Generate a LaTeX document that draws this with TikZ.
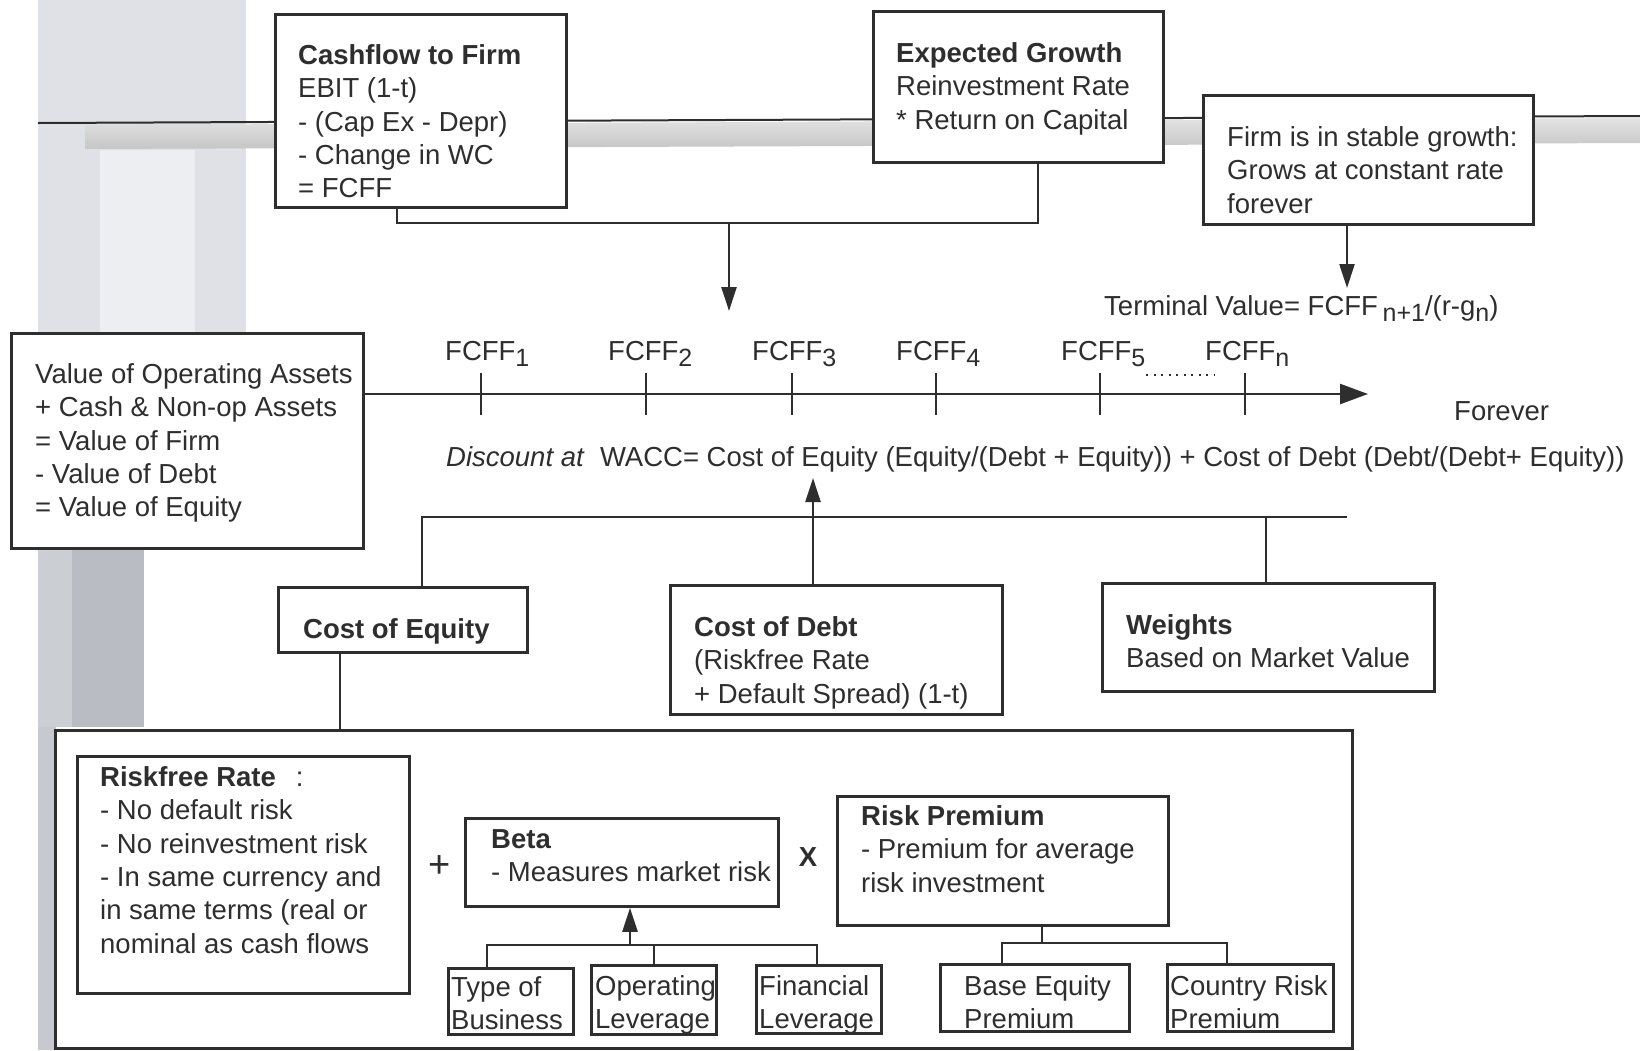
\documentclass[tikz,border=0pt]{standalone}
\usepackage{fontspec}
\setmainfont{Liberation Sans}
\usetikzlibrary{arrows.meta,calc}
\definecolor{ink}{HTML}{2E2E2E}
\definecolor{pilA}{HTML}{DFE1E6}
\definecolor{pilB}{HTML}{EDEEF1}
\definecolor{pilC}{HTML}{CBCED3}
\definecolor{pilD}{HTML}{B9BCC2}
\definecolor{pilS}{HTML}{C6C9CE}
\newcommand\dgfs{\fontsize{27.5pt}{33.3pt}\selectfont}
\newcommand\dsub[1]{\raisebox{-0.24em}{\fontsize{25pt}{25pt}\selectfont #1}}
\begin{document}
\begin{tikzpicture}[x=1pt,y=-1pt,
  box/.style={draw=ink, line width=2.8pt, fill=white, inner sep=0pt, anchor=north west},
  txt/.style={inner sep=0pt, anchor=north west, align=left, text=ink, font=\dgfs},
  lbl/.style={inner sep=0pt, anchor=base west, text=ink, font=\dgfs},
  conn/.style={draw=ink, line width=2.4pt},
  arr/.style={conn, -{Triangle[length=24pt,width=15pt]}},
  bigarr/.style={conn, -{Triangle[length=28pt,width=20pt]}},
]
\useasboundingbox (0,0) rectangle (1640,1050);
\fill[white] (0,0) rectangle (1640,1050);
% background pillar
\fill[pilA] (38,0) rectangle (246,547);
\fill[pilB] (100,150) rectangle (195,332);
\fill[pilC] (38,547) rectangle (144,727);
\fill[pilD] (72,547) rectangle (144,727);
\fill[pilS] (38,727) rectangle (56,1050);
% pipe
\shade[top color=gray!22, middle color=gray!14, bottom color=gray!45]
  (85,125) -- (1640,118) -- (1640,143) -- (85,149) -- cycle;
\draw[ink, line width=2pt] (38,123) -- (1640,116);

% boxes
\node[box, minimum width=291pt, minimum height=193pt] (cf) at (274,13) {};
\node[box, minimum width=290pt, minimum height=151pt] (eg) at (872,10) {};
\node[box, minimum width=330pt, minimum height=129pt] (sg) at (1202,94) {};
\node[box, minimum width=352pt, minimum height=215pt] (vo) at (10,332) {};
\node[box, minimum width=249pt, minimum height=65pt] (ce) at (277,586) {};
\node[box, minimum width=332pt, minimum height=129pt] (cd) at (669,584) {};
\node[box, minimum width=332pt, minimum height=108pt] (wt) at (1101,582) {};
\node[box, minimum width=1297pt, minimum height=318pt] (big) at (54,729) {};
\node[box, minimum width=332pt, minimum height=237pt] (rf) at (76,755) {};
\node[box, minimum width=313pt, minimum height=88pt] (beta) at (464,817) {};
\node[box, minimum width=331pt, minimum height=129pt] (rp) at (836,795) {};
\node[box, minimum width=125pt, minimum height=66pt] (tb) at (447,967) {};
\node[box, minimum width=125pt, minimum height=69pt] (ol) at (590,964) {};
\node[box, minimum width=125pt, minimum height=68pt] (fl) at (755,964) {};
\node[box, minimum width=189pt, minimum height=67pt] (be) at (939,963) {};
\node[box, minimum width=166pt, minimum height=67pt] (cr) at (1166,963) {};

% connectors
\coordinate (cfx) at (397,223);
\coordinate (egx) at (1038,223);
\draw[conn] (cf.south -| cfx) -- (cfx) -- (egx) -- (eg.south -| egx);
\coordinate (m1) at (729,223);
\coordinate (m1tip) at (729,311);
\draw[arr] (m1) -- (m1tip);
\coordinate (tvtip) at (1347,288);
\draw[arr] (sg.south -| tvtip) -- (tvtip);
\coordinate (tlend) at (1368,394);
\draw[bigarr] (vo.east |- tlend) -- (tlend);
\foreach \tx in {481,646,792,936,1100,1245}
  \draw[conn] (\tx,373) -- (\tx,415);
\draw[ink, line width=2pt, dash pattern=on 2pt off 5.5pt] (1146,375) -- (1214,375);
\coordinate (wtip) at (813,478);
\draw[arr] (cd.north -| wtip) -- (wtip);
\coordinate (h1) at (422,517);
\coordinate (h2) at (1347,517);
\coordinate (h3) at (1266,517);
\draw[conn] (ce.north -| h1) -- (h1) -- (h2);
\draw[conn] (h3) -- (wt.north -| h3);
\coordinate (c1) at (340,700);
\draw[conn] (ce.south -| c1) -- (big.north -| c1);
\coordinate (bt1) at (487,945);
\coordinate (bt2) at (817,945);
\coordinate (bt3) at (630,945);
\draw[conn] (tb.north -| bt1) -- (bt1) -- (bt2) -- (fl.north -| bt2);
\draw[conn] (ol.north) -- (ol.north |- bt1);
\draw[arr] (bt3) -- (beta.south -| bt3);
\coordinate (rt) at (1042,943);
\coordinate (rt1) at (1002,943);
\coordinate (rt2) at (1227,943);
\draw[conn] (rp.south -| rt) -- (rt);
\draw[conn] (be.north -| rt1) -- (rt1) -- (rt2) -- (cr.north -| rt2);

% texts
\node[txt] (cft) at (298,41) {\strut\textbf{Cashflow to Firm}\\EBIT (1-t)\\- (Cap Ex - Depr)\\- Change in WC\\= FCFF};
\node[txt] (egt) at (896,39) {\strut\textbf{Expected Growth}\\Reinvestment Rate\\* Return on Capital};
\node[txt] (sgt) at (1227,123) {\strut Firm is in stable growth:\\Grows at constant rate\\forever};
\node[lbl] (tv) at (1104,315) {Terminal Value= FCFF\,\dsub{n+1}/(r-g\dsub{n})};
\node[txt] (vot) at (35,360) {\strut Value of Operating Assets\\+ Cash \& Non-op Assets\\= Value of Firm\\- Value of Debt\\= Value of Equity};
\node[lbl] (f1) at (445,360) {FCFF\dsub{1}};
\node[lbl] (f2) at (608,360) {FCFF\dsub{2}};
\node[lbl] (f3) at (752,360) {FCFF\dsub{3}};
\node[lbl] (f4) at (896,360) {FCFF\dsub{4}};
\node[lbl] (f5) at (1061,360) {FCFF\dsub{5}};
\node[lbl] (fn) at (1205,360) {FCFF\dsub{n}};
\node[lbl] (fev) at (1454,420) {Forever};
\node[lbl] (wacc) at (446,466) {\textit{Discount at}\ \ WACC= Cost of Equity (Equity/(Debt + Equity)) + Cost of Debt (Debt/(Debt+ Equity))};
\node[txt] (cet) at (303,615) {\strut\textbf{Cost of Equity}};
\node[txt] (cdt) at (694,613) {\strut\textbf{Cost of Debt}\\(Riskfree Rate\\+ Default Spread) (1-t)};
\node[txt] (wtt) at (1126,611) {\strut\textbf{Weights}\\Based on Market Value};
\node[txt] (rft) at (100,763) {\strut\textbf{Riskfree Rate}\hspace{20pt}:\\- No default risk\\- No reinvestment risk\\- In same currency and\\in same terms (real or\\nominal as cash flows};
\node[txt, anchor=center, font=\fontsize{38pt}{38pt}\selectfont] (plus) at (440,867) {+};
\node[txt] (btt) at (491,825) {\strut\textbf{Beta}\\- Measures market risk};
\node[txt, anchor=center] (times) at (808,857) {\textbf{X}};
\node[txt] (rpt) at (861,802) {\strut\textbf{Risk Premium}\\- Premium for average\\risk investment};
\node[txt] (tbt) at (451,973) {\strut Type of\\Business};
\node[txt] (olt) at (595,972) {\strut Operating\\Leverage};
\node[txt] (flt) at (759,972) {\strut Financial\\Leverage};
\node[txt] (bet) at (964,972) {\strut Base Equity\\Premium};
\node[txt] (crt) at (1170,972) {\strut Country Risk\\Premium};
\end{tikzpicture}
\end{document}
